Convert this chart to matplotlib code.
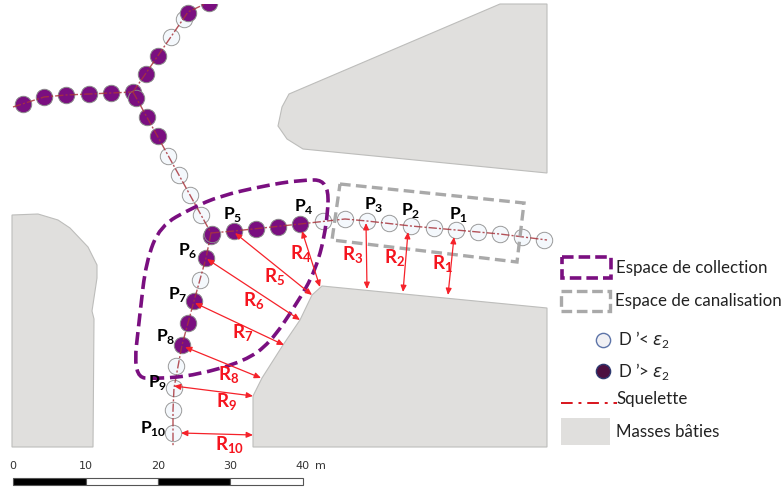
import matplotlib
matplotlib.use("Agg")
import matplotlib.pyplot as plt
from matplotlib.path import Path
from matplotlib.patches import PathPatch, Polygon, Rectangle

plt.rcParams['font.family'] = ['Lato', 'DejaVu Sans']
plt.rcParams['mathtext.fontset'] = 'custom'
plt.rcParams['mathtext.rm'] = 'Lato'
plt.rcParams['mathtext.it'] = 'DejaVu Sans:italic'
plt.rcParams['mathtext.bf'] = 'Lato:bold'

# Map geometry, in the picture's pixel frame
building_right = [(322, 286), (547, 308), (547, 447), (253, 447), (253, 396), (262, 378),
                  (283, 345), (300, 320), (312, 295)]
building_top = [(500, 4), (547, 4), (547, 173), (303, 149), (287, 139), (278, 126), (282, 107), (289, 94)]
building_left = [(12, 215), (38, 214), (58, 220), (70, 228), (88, 247), (97, 265), (97, 278),
                 (92, 311), (94, 319), (93, 447), (12, 447)]

skeleton_west = [(13, 107), (44, 97), (66, 95), (89, 94), (111, 93), (133, 92)]
skeleton_north = [(133, 92), (188, 12), (207, 3)]
skeleton_middle = [(133, 92), (211, 233)]
skeleton_south = [(211, 233), (206, 258), (194, 301), (182, 345), (174, 388), (173, 410), (173, 447)]
skeleton_east = [(211, 233), (234, 231), (300, 224), (345, 219), (367, 221), (411, 226), (456, 230),
                 (500, 234), (547, 240)]

nodes_over = [(209, 3), (188, 13), (158, 56), (146, 74), (133, 92), (136, 98), (147, 117), (158, 136),
              (23, 104), (44, 97), (66, 95), (89, 94), (111, 93), (211, 236), (212, 234), (234, 231),
              (256, 229), (278, 227), (300, 224), (206, 258), (194, 301), (188, 323), (182, 345)]
nodes_under = [(184, 19), (171, 37), (168, 156), (179, 175), (190, 195), (201, 215), (200, 280),
               (176, 366), (174, 388), (173, 410), (173, 433), (323, 221), (345, 219), (367, 221),
               (389, 223), (411, 226), (434, 228), (456, 230), (478, 232), (500, 234), (522, 237),
               (544, 240)]

collection_ctrl = [(329, 180), (300, 180), (263, 186), (220, 196), (192, 208), (160, 226), (146, 262),
                   (140, 313), (133, 377), (157, 379), (197, 375), (245, 361), (270, 343), (296, 305),
                   (316, 270), (327, 225)]
canal_box = [(340, 184), (524, 203), (517, 262), (332, 240)]

radii_from = [(454, 237), (408, 232), (366, 223), (302, 231), (235, 233), (207, 259), (195, 303),
              (185, 347), (174, 386), (181, 433)]
radii_to = [(448, 295), (403, 292), (367, 289), (320, 287), (312, 295), (300, 320), (284, 345),
            (261, 378), (253, 396), (253, 435)]
r_labels = ['1', '2', '3', '4', '5', '6', '7', '8', '9', '10']
r_pos = [(442, 264), (395, 258), (353, 255), (301, 254), (275, 277), (254, 301), (243, 333),
         (229, 375), (227, 402), (230, 445)]
p_pos = [(459, 215), (411, 210), (374, 205), (304, 206), (233, 215), (188, 251), (178, 295),
         (166, 337), (158, 383), (153, 429)]

scale_ticks = [0, 10, 20, 30, 40]
scale_x = [13, 86, 158, 230, 303]

PURPLE = '#7a0f80'
GREY_BOX = '#a9a9a9'
SKEL = '#a8343c'
BUILD = '#e0dfdd'
BUILD_EDGE = '#bdbdbb'

fig = plt.figure(figsize=(7.83, 4.93), dpi=100)
ax = fig.add_axes([0, 0, 1, 1])
ax.set_xlim(0, 783)
ax.set_ylim(493, 0)
ax.axis('off')

for poly in (building_right, building_top, building_left):
    ax.add_patch(Polygon(poly, closed=True, fc=BUILD, ec=BUILD_EDGE, lw=0.8, zorder=1))

clip = Rectangle((0, 4), 783, 443, transform=ax.transData)

for x, col, ec, z in [(nodes_under, '#f4f8fc', '#9a9a9a', 2), (nodes_over, PURPLE, '#8a8a8a', 3)]:
    sc = ax.scatter([p[0] for p in x], [p[1] for p in x], s=140, c=col, edgecolors=ec, linewidths=0.7, zorder=z)
    sc.set_clip_path(clip)

for seg in (skeleton_west, skeleton_north, skeleton_middle, skeleton_south, skeleton_east):
    ln, = ax.plot([p[0] for p in seg], [p[1] for p in seg], color=SKEL, lw=1.0, alpha=0.85,
                  dashes=(6, 1.5, 1.5, 1.5), zorder=4)
    ln.set_clip_path(clip)

# Closed quadratic spline through the midpoints of the control polygon
n = len(collection_ctrl)
mid = lambda a, b: ((a[0] + b[0]) / 2, (a[1] + b[1]) / 2)
verts = [mid(collection_ctrl[-1], collection_ctrl[0])]
codes = [Path.MOVETO]
for i in range(n):
    verts += [collection_ctrl[i], mid(collection_ctrl[i], collection_ctrl[(i + 1) % n])]
    codes += [Path.CURVE3, Path.CURVE3]
ax.add_patch(PathPatch(Path(verts, codes), fc='none', ec=PURPLE, lw=2.6, ls=(0, (3.6, 1.6)), zorder=5))
ax.add_patch(Polygon(canal_box, closed=True, fc='none', ec=GREY_BOX, lw=2.4, ls=(0, (3.2, 1.6)), zorder=5))

for a, b in zip(radii_from, radii_to):
    ax.annotate('', xy=b, xytext=a, zorder=6,
                arrowprops=dict(arrowstyle='<|-|>,head_width=0.17,head_length=0.38', color='#f5222a', lw=0.9,
                                shrinkA=0, shrinkB=0))

for lab, (x, y) in zip(r_labels, r_pos):
    ax.text(x, y, r'$\mathbf{R}_{\mathbf{%s}}$' % lab, color='#f5141e', fontsize=13.5, ha='center', va='center', zorder=7)
for lab, (x, y) in zip(r_labels, p_pos):
    ax.text(x, y, r'$\mathbf{P}_{\mathbf{%s}}$' % lab, color='black', fontsize=12.5, ha='center', va='center', zorder=7)

# Legend
ax.add_patch(Rectangle((562, 257), 49, 21, fc='none', ec=PURPLE, lw=2.6, ls=(0, (3.2, 1.4))))
ax.add_patch(Rectangle((561, 291), 49, 20, fc='none', ec=GREY_BOX, lw=2.4, ls=(0, (3.2, 1.4))))
ax.scatter([603], [340], s=105, c='#f0f0f4', edgecolors='#5d74a8', linewidths=1)
ax.scatter([603], [371], s=105, c='#4d1040', edgecolors='#2f3a70', linewidths=1)
ax.plot([561, 617], [403, 403], color='#d8141c', lw=1.4, dashes=(6, 3, 1.5, 3))
ax.add_patch(Rectangle((561, 418), 49, 27, fc=BUILD, ec='none'))
FS = 12.2
txt = '#222222'
ax.text(616, 268, 'Espace de collection', fontsize=FS, color=txt, va='center')
ax.text(615, 301, 'Espace de canalisation', fontsize=FS, color=txt, va='center')
ax.text(618, 340, "D ’< $\\epsilon_2$", fontsize=FS, color=txt, va='center')
ax.text(618, 371, "D ’> $\\epsilon_2$", fontsize=FS, color=txt, va='center')
ax.text(616, 399, 'Squelette', fontsize=FS, color=txt, va='center')
ax.text(616, 432, 'Masses bâties', fontsize=FS, color=txt, va='center')

# Scale bar
for i in range(len(scale_x) - 1):
    ax.add_patch(Rectangle((scale_x[i], 478), scale_x[i + 1] - scale_x[i], 7,
                           fc='black' if i % 2 == 0 else 'white', ec='#555555', lw=0.8))
for t, x in zip(scale_ticks, scale_x):
    ax.text(x, 466, str(t), fontsize=8, color='#333333', ha='center', va='center', family='DejaVu Sans')
ax.text(320, 466, 'm', fontsize=8, color='#333333', ha='center', va='center', family='DejaVu Sans')

fig.savefig('out.png', dpi=100)
